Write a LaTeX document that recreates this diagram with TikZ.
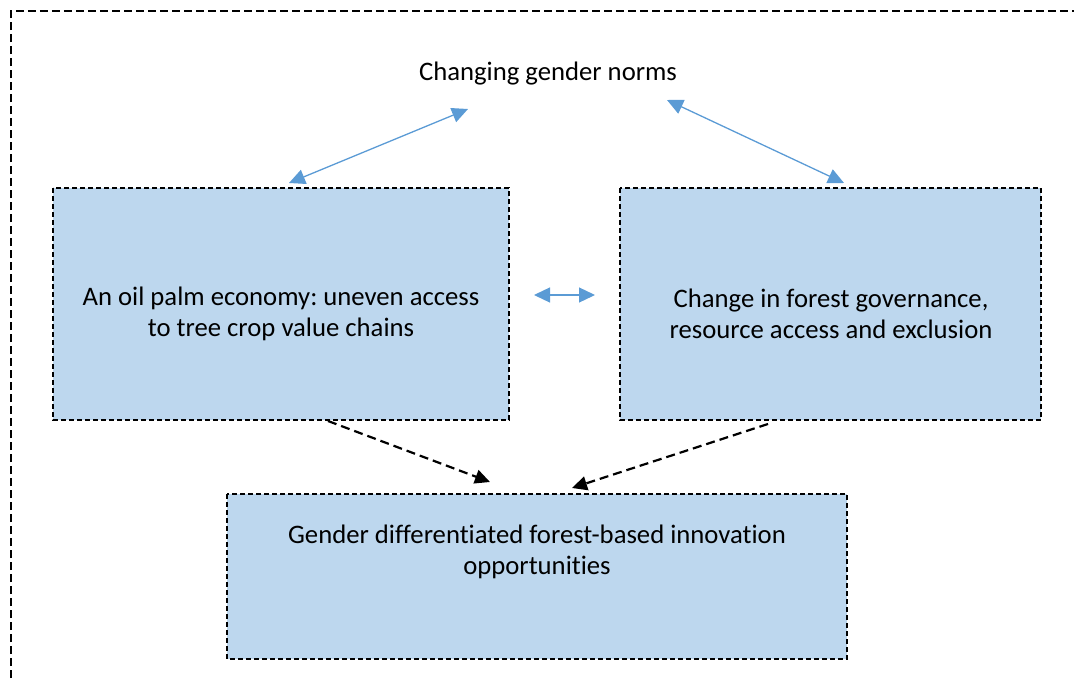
\documentclass[tikz,border=0pt]{standalone}
\usepackage{fontspec}
\setmainfont{Carlito}[Ligatures=NoCommon]
\frenchspacing
\usetikzlibrary{arrows.meta}
\definecolor{boxfill}{HTML}{BDD7EE}
\definecolor{linkblue}{HTML}{5B9BD5}
\begin{document}
\begin{tikzpicture}[x=1pt,y=-1pt,
  frame/.style={draw=black,line width=2pt,dash pattern=on 8pt off 4pt},
  topicbox/.style={draw=black,line width=1.5pt,dash pattern=on 5pt off 3pt,fill=boxfill},
  label/.style={font=\fontsize{26.7}{31}\selectfont,align=center,inner sep=0pt},
  twoway/.style={draw=linkblue,line width=1.3pt,{Triangle[length=16pt,width=15pt]}-{Triangle[length=16pt,width=15pt]}},
  leadsto/.style={draw=black,line width=2.2pt,dash pattern=on 9pt off 5pt,-{Triangle[length=15pt,width=14pt]}}]
\useasboundingbox (0,0) rectangle (1074,680);
% outer frame, open to the right and bottom
\draw[frame] (11,690) -- (11,11) -- (1090,11);
% topic boxes
\draw[topicbox] (53,188) rectangle (509,420);
\draw[topicbox] (620,188) rectangle (1041,420);
\draw[topicbox] (227,494) rectangle (847,659);
% labels
\node[label] (norms) at (548,74) {Changing gender norms};
\node[label] (economy) at (281,314) {An oil palm economy: uneven access\\to tree crop value chains};
\node[label] (governance) at (831,314) {Change in forest governance,\\resource access and exclusion};
\node[label] (innovation) at (537,552) {Gender differentiated forest-based innovation\\opportunities};
% connector ends
\coordinate (econTop) at (289,183);
\coordinate (normsLeft) at (468,109);
\coordinate (normsRight) at (667,100);
\coordinate (govTop) at (844,183);
\coordinate (econRight) at (534,295);
\coordinate (govLeft) at (595,295);
\coordinate (econBottom) at (328,421);
\coordinate (innovLeft) at (490,482);
\coordinate (govBottom) at (768,424);
\coordinate (innovRight) at (572,488);
% links
\draw[twoway] (econTop) -- (normsLeft);
\draw[twoway] (normsRight) -- (govTop);
\draw[twoway] (econRight) -- (govLeft);
\draw[leadsto] (econBottom) -- (innovLeft);
\draw[leadsto] (govBottom) -- (innovRight);
\end{tikzpicture}
\end{document}
